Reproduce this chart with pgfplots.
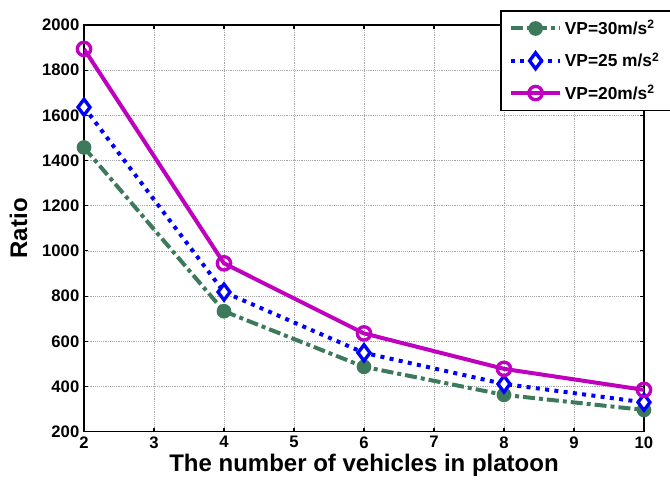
\documentclass[border=0pt]{standalone}
\usepackage{pgfplots}
\pgfplotsset{compat=1.18}
\usepackage{fontspec}
\setmainfont{Liberation Sans}
\definecolor{cgreen}{RGB}{61,122,92}
\definecolor{cmag}{RGB}{191,0,191}
\begin{document}
\begin{tikzpicture}
\begin{axis}[
  scale only axis,
  width=420pt, height=305pt,
  xmin=2, xmax=10, ymin=200, ymax=2000,
  xtick={2,3,...,10},
  ytick={200,400,...,2000},
  grid=major,
  grid style={densely dotted, gray!70, line width=0.5pt},
  axis line style={line width=1.2pt},
  tick align=inside,
  tick style={black, line width=0.8pt},
  major tick length=3pt,
  /pgf/number format/assume math mode=true,
  /pgf/number format/1000 sep={},
  tick label style={font=\bfseries\fontsize{12.5}{12.5}\selectfont},
  xticklabel={\textbf{\pgfmathprintnumber[assume math mode=true]{\tick}}},
  yticklabel={\textbf{\pgfmathprintnumber[assume math mode=true]{\tick}}},
  xlabel={\bfseries\fontsize{18}{18}\selectfont The number of vehicles in platoon},
  ylabel={\bfseries\fontsize{18}{18}\selectfont Ratio},
  xlabel style={at={(axis description cs:0.5,-0.098)}, anchor=base},
  ylabel style={at={(axis description cs:-0.117,0.5)}, anchor=center},
  legend style={at={(1.048,1.036)}, anchor=north east, draw=black, line width=1pt,
    font=\bfseries\fontsize{13}{14}\selectfont, row sep=8pt, inner xsep=6pt, inner ysep=5pt,
    cells={anchor=west}},
  legend image code/.code={\draw[#1] (0cm,0cm) -- (1.3cm,0cm); \draw[#1, solid] plot coordinates {(0.65cm,0cm)};},
]
\addplot[cgreen, line width=3pt, dash pattern=on 9pt off 3pt on 3pt off 3pt, mark=*, mark size=5pt, mark options={solid, fill=cgreen, line width=1pt}]
  coordinates {(2,1458) (4,733) (6,487) (8,363) (10,296)};
\addlegendentry{VP=30m/s\textsuperscript{2}}
\addplot[blue, line width=3pt, dash pattern=on 3pt off 4pt, mark=diamond*, mark size=6pt, mark options={solid, fill=white, line width=2.5pt}]
  coordinates {(2,1636) (4,818) (6,549) (8,411) (10,330)};
\addlegendentry{VP=25 m/s\textsuperscript{2}}
\addplot[cmag, line width=3pt, mark=o, mark size=5pt, mark options={solid, line width=2.5pt, fill=white}]
  coordinates {(2,1894) (4,945) (6,635) (8,478) (10,385)};
\addlegendentry{VP=20m/s\textsuperscript{2}}
\end{axis}
\pgfresetboundingbox
\path ([xshift=-63pt,yshift=-40.5pt]current axis.south west) rectangle ([xshift=19.5pt,yshift=18.75pt]current axis.north east);
\end{tikzpicture}
\end{document}
